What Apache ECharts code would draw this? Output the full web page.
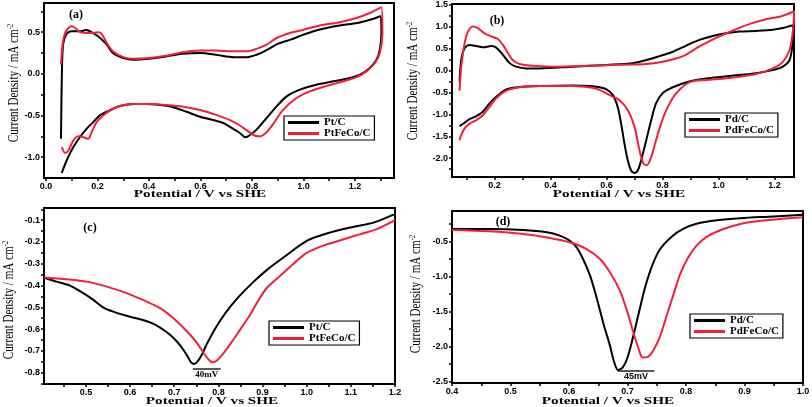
<!DOCTYPE html>
<html><head><meta charset="utf-8">
<script src="https://cdn.jsdelivr.net/npm/echarts@6.0.0/dist/echarts.min.js"></script>
<style>html,body{margin:0;padding:0;background:#fff}#c{width:812px;height:407px}</style>
</head><body><div id="c"></div>
<script>
// ---------- DATA ----------
// Panel (a): CV, Pt/C and PtFeCo/C  [potential V, current density mA cm-2]
const ptC_CV = [[0.058,-0.78],[0.062,0.09],[0.067,0.37],[0.08,0.48],[0.10,0.51],[0.132,0.51],[0.155,0.525],[0.177,0.50],[0.21,0.43],[0.236,0.35],[0.26,0.25],[0.30,0.19],[0.34,0.17],[0.40,0.18],[0.47,0.21],[0.53,0.24],[0.60,0.25],[0.66,0.23],[0.73,0.20],[0.78,0.20],[0.82,0.23],[0.86,0.29],[0.90,0.36],[0.95,0.41],[1.00,0.47],[1.06,0.53],[1.14,0.58],[1.21,0.61],[1.26,0.65],[1.30,0.69],[1.303,0.49],[1.297,0.29],[1.284,0.17],[1.258,0.07],[1.22,-0.01],[1.18,-0.05],[1.116,-0.09],[1.05,-0.13],[0.986,-0.19],[0.935,-0.27],[0.896,-0.39],[0.857,-0.53],[0.818,-0.67],[0.79,-0.74],[0.775,-0.76],[0.753,-0.71],[0.727,-0.66],[0.689,-0.59],[0.65,-0.555],[0.598,-0.515],[0.546,-0.455],[0.494,-0.40],[0.443,-0.375],[0.39,-0.363],[0.34,-0.363],[0.287,-0.387],[0.249,-0.435],[0.21,-0.496],[0.184,-0.577],[0.158,-0.657],[0.132,-0.758],[0.106,-0.879],[0.08,-1.04],[0.061,-1.19]];
const ptFeCo_CV = [[0.058,0.11],[0.065,0.37],[0.074,0.49],[0.087,0.55],[0.10,0.57],[0.113,0.55],[0.132,0.50],[0.158,0.49],[0.184,0.49],[0.203,0.50],[0.216,0.48],[0.236,0.37],[0.26,0.27],[0.30,0.20],[0.34,0.18],[0.40,0.19],[0.47,0.22],[0.53,0.26],[0.60,0.28],[0.66,0.28],[0.727,0.27],[0.78,0.27],[0.818,0.30],[0.857,0.35],[0.896,0.43],[0.948,0.49],[1.0,0.53],[1.064,0.58],[1.142,0.62],[1.206,0.67],[1.258,0.73],[1.303,0.80],[1.307,0.49],[1.297,0.25],[1.278,0.13],[1.245,0.03],[1.206,-0.04],[1.155,-0.09],[1.09,-0.145],[1.025,-0.21],[0.973,-0.29],[0.92,-0.435],[0.883,-0.60],[0.857,-0.70],[0.83,-0.75],[0.81,-0.74],[0.786,-0.69],[0.753,-0.62],[0.715,-0.555],[0.663,-0.495],[0.598,-0.435],[0.533,-0.395],[0.469,-0.375],[0.404,-0.363],[0.34,-0.363],[0.287,-0.387],[0.249,-0.44],[0.223,-0.496],[0.197,-0.577],[0.177,-0.70],[0.164,-0.78],[0.145,-0.76],[0.126,-0.75],[0.106,-0.80],[0.087,-0.92],[0.074,-0.95],[0.061,-0.88]];
// Panel (b): CV, Pd/C and PdFeCo/C
const pdC_CV = [[0.075,-0.25],[0.081,0.24],[0.093,0.51],[0.111,0.585],[0.135,0.56],[0.158,0.53],[0.188,0.56],[0.206,0.525],[0.23,0.36],[0.254,0.17],[0.277,0.09],[0.313,0.05],[0.36,0.05],[0.48,0.09],[0.60,0.13],[0.694,0.17],[0.742,0.24],[0.789,0.33],[0.837,0.43],[0.885,0.57],[0.932,0.70],[0.98,0.79],[1.027,0.85],[1.075,0.89],[1.135,0.905],[1.194,0.93],[1.23,0.97],[1.265,1.03],[1.268,0.93],[1.265,0.62],[1.254,0.24],[1.23,0.09],[1.194,0.01],[1.135,-0.06],[1.075,-0.10],[1.015,-0.14],[0.956,-0.18],[0.896,-0.25],[0.837,-0.38],[0.80,-0.52],[0.777,-0.75],[0.76,-1.13],[0.742,-1.59],[0.724,-2.05],[0.712,-2.28],[0.70,-2.34],[0.688,-2.28],[0.676,-2.05],[0.664,-1.66],[0.652,-1.20],[0.64,-0.83],[0.623,-0.56],[0.60,-0.43],[0.575,-0.38],[0.54,-0.35],[0.48,-0.34],[0.36,-0.35],[0.30,-0.37],[0.242,-0.43],[0.206,-0.60],[0.182,-0.75],[0.158,-0.94],[0.135,-1.04],[0.111,-1.11],[0.093,-1.19],[0.075,-1.27]];
const pdFeCo_CV = [[0.075,-0.46],[0.081,0.09],[0.093,0.62],[0.105,0.89],[0.123,1.005],[0.14,0.97],[0.164,0.85],[0.188,0.78],[0.212,0.72],[0.23,0.585],[0.248,0.40],[0.265,0.24],[0.289,0.15],[0.337,0.11],[0.42,0.09],[0.539,0.11],[0.658,0.135],[0.742,0.15],[0.813,0.22],[0.873,0.33],[0.932,0.55],[0.99,0.74],[1.05,0.91],[1.11,1.06],[1.17,1.17],[1.218,1.23],[1.254,1.31],[1.27,1.36],[1.27,1.23],[1.265,0.85],[1.254,0.47],[1.23,0.20],[1.194,0.05],[1.135,-0.08],[1.075,-0.14],[1.015,-0.185],[0.956,-0.215],[0.896,-0.27],[0.849,-0.52],[0.819,-0.83],[0.795,-1.21],[0.777,-1.59],[0.76,-1.97],[0.744,-2.16],[0.732,-2.12],[0.718,-1.82],[0.70,-1.28],[0.676,-0.90],[0.646,-0.67],[0.623,-0.60],[0.599,-0.52],[0.575,-0.44],[0.55,-0.39],[0.48,-0.35],[0.36,-0.35],[0.289,-0.38],[0.242,-0.46],[0.206,-0.63],[0.182,-0.83],[0.158,-1.02],[0.135,-1.13],[0.111,-1.21],[0.093,-1.32],[0.081,-1.47],[0.075,-1.59]];
// Panel (c): ORR sweep, Pt/C and PtFeCo/C
const ptC_LSV = [[0.405,-0.363],[0.433,-0.382],[0.464,-0.40],[0.494,-0.435],[0.517,-0.466],[0.539,-0.50],[0.562,-0.52],[0.592,-0.539],[0.623,-0.555],[0.653,-0.576],[0.676,-0.604],[0.691,-0.627],[0.706,-0.657],[0.721,-0.696],[0.731,-0.728],[0.738,-0.752],[0.745,-0.76],[0.753,-0.748],[0.763,-0.715],[0.774,-0.668],[0.789,-0.611],[0.805,-0.558],[0.827,-0.497],[0.85,-0.443],[0.88,-0.382],[0.91,-0.328],[0.948,-0.27],[1.002,-0.193],[1.047,-0.16],[1.102,-0.132],[1.153,-0.11],[1.2,-0.071]];
const ptFeCo_LSV = [[0.405,-0.363],[0.456,-0.371],[0.502,-0.382],[0.547,-0.405],[0.592,-0.435],[0.638,-0.474],[0.668,-0.504],[0.698,-0.55],[0.729,-0.611],[0.752,-0.665],[0.767,-0.711],[0.778,-0.740],[0.786,-0.752],[0.796,-0.745],[0.81,-0.715],[0.83,-0.66],[0.85,-0.60],[0.87,-0.54],[0.89,-0.47],[0.91,-0.41],[0.94,-0.355],[0.97,-0.30],[1.00,-0.25],[1.04,-0.215],[1.08,-0.19],[1.12,-0.165],[1.16,-0.14],[1.2,-0.10]];
// Panel (d): ORR sweep, Pd/C and PdFeCo/C
const pdC_LSV = [[0.40,-0.324],[0.464,-0.324],[0.522,-0.338],[0.562,-0.371],[0.584,-0.419],[0.601,-0.49],[0.613,-0.586],[0.624,-0.752],[0.636,-0.99],[0.647,-1.30],[0.659,-1.68],[0.67,-1.99],[0.677,-2.22],[0.684,-2.34],[0.692,-2.30],[0.70,-2.16],[0.71,-1.85],[0.72,-1.50],[0.73,-1.16],[0.742,-0.85],[0.755,-0.62],[0.776,-0.43],[0.796,-0.32],[0.818,-0.25],[0.853,-0.20],[0.893,-0.17],[0.95,-0.145],[1.0,-0.12]];
const pdFeCo_LSV = [[0.40,-0.338],[0.464,-0.357],[0.522,-0.395],[0.567,-0.452],[0.601,-0.514],[0.63,-0.61],[0.653,-0.752],[0.67,-0.943],[0.687,-1.205],[0.699,-1.49],[0.71,-1.80],[0.718,-2.01],[0.726,-2.16],[0.735,-2.15],[0.744,-2.06],[0.756,-1.85],[0.767,-1.56],[0.779,-1.25],[0.79,-0.967],[0.804,-0.729],[0.818,-0.562],[0.836,-0.433],[0.864,-0.324],[0.893,-0.252],[0.921,-0.214],[0.961,-0.181],[1.0,-0.157]];

// Tick positions and tick labels
const aXTicks = [0,0.1,0.2,0.3,0.4,0.5,0.6,0.7,0.8,0.9,1.0,1.1,1.2,1.3];
const aXLabels = [0,0.2,0.4,0.6,0.8,1.0,1.2];
const aYTicks = [0.75,0.5,0.25,0,-0.25,-0.5,-0.75,-1.0];
const aYLabels = [0.5,0,-0.5,-1.0];
const bXTicks = [0.1,0.2,0.3,0.4,0.5,0.6,0.7,0.8,0.9,1.0,1.1,1.2];
const bXLabels = [0.2,0.4,0.6,0.8,1.0,1.2];
const bYTicks = [1.5,1.25,1.0,0.75,0.5,0.25,0,-0.25,-0.5,-0.75,-1.0,-1.25,-1.5,-1.75,-2.0,-2.25];
const bYLabels = [1.5,1.0,0.5,0,-0.5,-1.0,-1.5,-2.0];
const cXTicks = [0.45,0.5,0.55,0.6,0.65,0.7,0.75,0.8,0.85,0.9,0.95,1.0,1.05,1.1,1.15,1.2];
const cXLabels = [0.5,0.6,0.7,0.8,0.9,1.0,1.1,1.2];
const cYTicks = [-0.05,-0.1,-0.15,-0.2,-0.25,-0.3,-0.35,-0.4,-0.45,-0.5,-0.55,-0.6,-0.65,-0.7,-0.75,-0.8,-0.85];
const cYLabels = [-0.1,-0.2,-0.3,-0.4,-0.5,-0.6,-0.7,-0.8];
const dXTicks = [0.4,0.45,0.5,0.55,0.6,0.65,0.7,0.75,0.8,0.85,0.9,0.95,1.0];
const dXLabels = [0.4,0.5,0.6,0.7,0.8,0.9,1.0];
const dYTicks = [-0.25,-0.5,-0.75,-1.0,-1.25,-1.5,-1.75,-2.0,-2.25,-2.5];
const dYLabels = [-0.5,-1.0,-1.5,-2.0,-2.5];

// Peak-shift annotations
const shiftC = {from:[0.742,-0.784], to:[0.805,-0.784], text:'40mV'};
const shiftD = {from:[0.683,-2.35], to:[0.746,-2.35], text:'45mV'};

// ---------- CHART ----------
const BLACK = '#000000', RED = '#f0203c';
const SERIF = 'Liberation Serif', SANS = 'Liberation Sans';
const chart = echarts.init(document.getElementById('c'), null, {renderer:'canvas'});

const grids = [
  {left:44, top:3, width:350, height:175},
  {left:452, top:4, width:342, height:173},
  {left:44, top:208, width:351, height:176},
  {left:452, top:211, width:351, height:172}
].map(g => Object.assign(g, {show:true, borderColor:'#000', borderWidth:2, backgroundColor:'transparent', outerBoundsMode:'none'}));

const lbl = {fontFamily:SANS, fontWeight:'bold', fontSize:9, color:'#000', formatter: v => Number(v).toFixed(1)};
function axis(gi, min, max, ticks, labels, isX) {
  return {
    type:'value', gridIndex:gi, min:min, max:max,
    splitLine:{show:false},
    axisLine:{show:true, onZero:false, lineStyle:{color:'#000', width:2}},
    axisTick:{show:true, inside:false, length:3, lineStyle:{color:'#000', width:1.5}, customValues:ticks},
    axisLabel:Object.assign({margin: isX ? 4 : 4, customValues:labels}, lbl)
  };
}
const xAxes = [
  axis(0, -0.008, 1.352, aXTicks, aXLabels, true),
  axis(1, 0.048, 1.27, bXTicks, bXLabels, true),
  axis(2, 0.405, 1.2, cXTicks, cXLabels, true),
  axis(3, 0.4, 1.0, dXTicks, dXLabels, true)
];
const yAxes = [
  axis(0, -1.25, 0.85, aYTicks, aYLabels, false),
  axis(1, -2.43, 1.52, bYTicks, bYLabels, false),
  axis(2, -0.852, -0.044, cYTicks, cYLabels, false),
  axis(3, -2.524, -0.067, dYTicks, dYLabels, false)
];

function line(name, data, color, gi, extra) {
  return Object.assign({
    name:name, type:'line', xAxisIndex:gi, yAxisIndex:gi, data:data,
    showSymbol:false, symbol:'none', smooth:0.3, silent:true,
    lineStyle:{color:color, width:2}, itemStyle:{color:color}
  }, extra || {});
}
function shiftMark(s, font) {
  return {markLine:{
    silent:true, animation:false, symbol:['none','arrow'], symbolSize:[0,8],
    lineStyle:{color:'#222', width:1.5, type:'solid'},
    label:{show:true, position:'insideMiddleBottom', distance:1, formatter:s.text,
      fontFamily:font, fontWeight:'bold', fontSize:9, color:'#000'},
    emphasis:{disabled:true},
    data:[[{coord:s.from},{coord:s.to}]]
  }};
}
const series = [
  line('Pt/C', ptC_CV, BLACK, 0),
  line('PtFeCo/C', ptFeCo_CV, RED, 0),
  line('Pd/C', pdC_CV, BLACK, 1),
  line('PdFeCo/C', pdFeCo_CV, RED, 1),
  line('Pt/C', ptC_LSV, BLACK, 2, shiftMark(shiftC, SERIF)),
  line('PtFeCo/C', ptFeCo_LSV, RED, 2),
  line('Pd/C', pdC_LSV, BLACK, 3, shiftMark(shiftD, SANS)),
  line('PdFeCo/C', pdFeCo_LSV, RED, 3)
];

function legend(names, left, top) {
  return {
    data:names, left:left, top:top, orient:'vertical',
    icon:'rect', itemWidth:31, itemHeight:3, itemGap:0, itemTextGap:4,
    padding:[1,4,1,4], borderColor:'#000', borderWidth:1.2, borderRadius:0,
    selectedMode:false, inactiveColor:'#000',
    textStyle:{fontFamily:SERIF, fontWeight:'bold', fontSize:11, lineHeight:10, color:'#000'}
  };
}
const legends = [
  legend(['Pt/C','PtFeCo/C'], 284, 116),
  legend(['Pd/C','PdFeCo/C'], 685, 113),
  legend(['Pt/C','PtFeCo/C'], 269, 321),
  legend(['Pd/C','PdFeCo/C'], 690, 314)
];

function ytitle(x, y) {
  return {type:'text', x:x, y:y, rotation:Math.PI/2, scaleX:0.74, silent:true,
    style:{text:'{a|Current Density / mA cm}{b|-2}', align:'center', verticalAlign:'middle',
      font:'15px "Liberation Serif"', fill:'#000',
      rich:{a:{font:'15px "Liberation Serif"', fill:'#000', lineHeight:16},
            b:{font:'9px "Liberation Serif"', fill:'#000', verticalAlign:'top', lineHeight:16}}}};
}
function xtitle(x, y) {
  return {type:'text', x:x, y:y, scaleX:1.38, silent:true,
    style:{text:'Potential / V vs SHE', align:'center', verticalAlign:'middle',
      font:'bold 11px "Liberation Serif"', fill:'#000'}};
}
function tag(t, x, y) {
  return {type:'text', x:x, y:y, silent:true,
    style:{text:t, align:'center', verticalAlign:'middle', font:'bold 12px "Liberation Serif"', fill:'#000'}};
}
const graphics = [
  ytitle(14, 83), ytitle(413, 81), ytitle(9, 300), ytitle(416, 294),
  xtitle(200, 194), xtitle(619, 194), xtitle(212, 401), xtitle(608, 401),
  tag('(a)', 76, 15), tag('(b)', 497, 21), tag('(c)', 90, 228), tag('(d)', 503, 222)
];

chart.setOption({
  animation:false, backgroundColor:'#fff',
  grid:grids, xAxis:xAxes, yAxis:yAxes, series:series, legend:legends, graphic:graphics
});
</script></body></html>
